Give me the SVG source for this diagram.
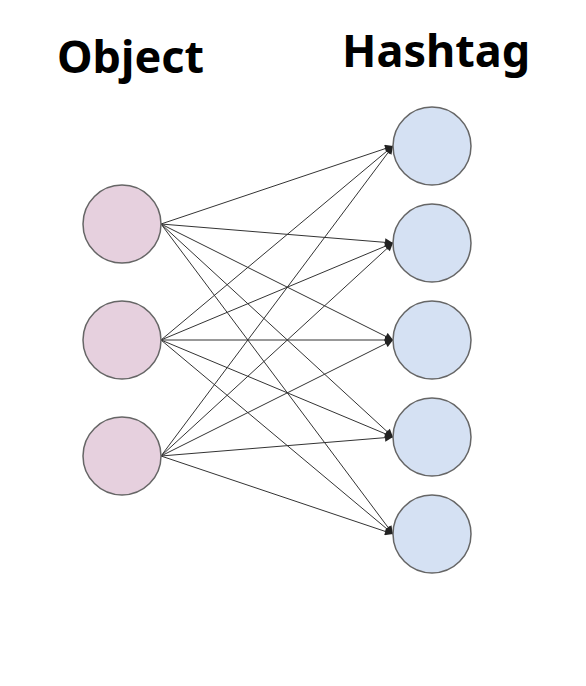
<svg xmlns="http://www.w3.org/2000/svg" width="586" height="686" viewBox="0 0 586 686">
<style>
.t{font-family:"Noto Sans","Open Sans","DejaVu Sans",sans-serif;font-weight:bold;font-size:45px;fill:#000}
.l{fill:#e6d0de;stroke:#666;stroke-width:1.5}
.r{fill:#d5e1f3;stroke:#666;stroke-width:1.5}
.c line{stroke:#333;stroke-width:1;marker-end:url(#a)}
</style>
<defs>
<marker id="a" viewBox="0 0 10 10" refX="10" refY="5" markerWidth="10" markerHeight="8" markerUnits="userSpaceOnUse" orient="auto">
<path d="M0,0 L10,5 L0,10 z" fill="#222"/>
</marker>
</defs>
<rect width="586" height="686" fill="#fff"/>
<text class="t" x="57" y="73">Object</text>
<text class="t" x="342" y="67">Hashtag</text>
<g class="c" id="connectors">
<line x1="161" y1="224" x2="393" y2="146"/>
<line x1="161" y1="224" x2="393" y2="243"/>
<line x1="161" y1="224" x2="393" y2="340"/>
<line x1="161" y1="224" x2="393" y2="437"/>
<line x1="161" y1="224" x2="393" y2="534"/>
<line x1="161" y1="340" x2="393" y2="146"/>
<line x1="161" y1="340" x2="393" y2="243"/>
<line x1="161" y1="340" x2="393" y2="340"/>
<line x1="161" y1="340" x2="393" y2="437"/>
<line x1="161" y1="340" x2="393" y2="534"/>
<line x1="161" y1="456" x2="393" y2="146"/>
<line x1="161" y1="456" x2="393" y2="243"/>
<line x1="161" y1="456" x2="393" y2="340"/>
<line x1="161" y1="456" x2="393" y2="437"/>
<line x1="161" y1="456" x2="393" y2="534"/>
</g>
<g id="obj1"><circle class="l" cx="122" cy="224" r="39"/></g>
<g id="obj2"><circle class="l" cx="122" cy="340" r="39"/></g>
<g id="obj3"><circle class="l" cx="122" cy="456" r="39"/></g>
<g id="tag1"><circle class="r" cx="432" cy="146" r="39"/></g>
<g id="tag2"><circle class="r" cx="432" cy="243" r="39"/></g>
<g id="tag3"><circle class="r" cx="432" cy="340" r="39"/></g>
<g id="tag4"><circle class="r" cx="432" cy="437" r="39"/></g>
<g id="tag5"><circle class="r" cx="432" cy="534" r="39"/></g>
</svg>
